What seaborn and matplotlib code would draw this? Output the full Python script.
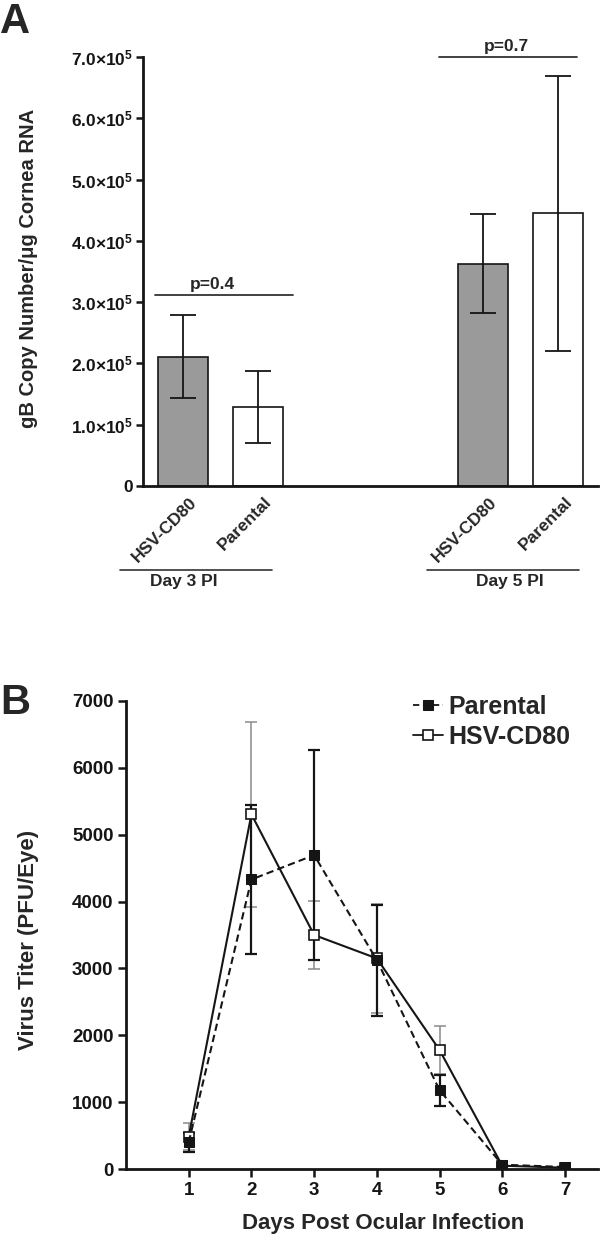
import numpy as np
import pandas as pd
import seaborn as sns
import matplotlib
matplotlib.use("Agg")
import matplotlib.pyplot as plt
import matplotlib.transforms as mtransforms

# ---- data ----
# panel A: gB copy number per ug cornea RNA
bar_groups = ["Day 3 PI", "Day 3 PI", "Day 5 PI", "Day 5 PI"]
bar_viruses = ["HSV-CD80", "Parental", "HSV-CD80", "Parental"]
bar_means = [2.11e5, 1.29e5, 3.63e5, 4.45e5]
bar_errs = [0.68e5, 0.58e5, 0.80e5, 2.245e5]
p_labels = ["p=0.4", "p=0.7"]

# panel B: virus titer
days = [1, 2, 3, 4, 5, 6, 7]
parental_mean = [400, 4330, 4695, 3125, 1180, 65, 30]
parental_err = [140, 1120, 1570, 830, 230, 20, 10]
cd80_mean = [485, 5305, 3500, 3150, 1780, 50, 20]
cd80_err = [200, 1380, 510, 820, 360, 15, 8]

# layout
bar_x = [0, 1, 4, 5]

sns.set_style("ticks")
plt.rcParams["font.family"] = ["Liberation Sans", "DejaVu Sans"]
plt.rcParams["font.weight"] = "bold"
plt.rcParams["axes.labelweight"] = "bold"
plt.rcParams["mathtext.fontset"] = "custom"
plt.rcParams["mathtext.bf"] = "Liberation Sans:bold"
plt.rcParams["mathtext.rm"] = "Liberation Sans:bold"
plt.rcParams["mathtext.default"] = "bf"

fig = plt.figure(figsize=(6, 12.38), dpi=100)
axA = fig.add_axes([0.238, 0.6074, 0.759, 0.3466])
axB = fig.add_axes([0.21, 0.0557, 0.787, 0.3781])

ink = "#151515"

# ---------------- panel A ----------------
dfA = pd.DataFrame({"x": bar_x, "virus": bar_viruses, "group": bar_groups,
                    "mean": bar_means, "err": bar_errs})
sns.barplot(data=dfA, x="x", y="mean", hue="virus", native_scale=True, dodge=False,
            palette={"HSV-CD80": "#9a9a9a", "Parental": "white"},
            edgecolor=ink, linewidth=1.2, width=0.667, errorbar=None,
            legend=False, ax=axA)
axA.errorbar(dfA["x"], dfA["mean"], yerr=dfA["err"], fmt="none", ecolor=ink,
             elinewidth=1.3, capsize=9.5, capthick=1.3, zorder=5)

axA.set_xlim(-0.54, 5.53)
axA.set_ylim(0, 7e5)
yt = np.arange(0, 8) * 1e5
axA.set_yticks(yt)
axA.set_yticklabels(["0"] + [f"{v:.1f}×10$^{{5}}$" for v in range(1, 8)], fontsize=12.5)
axA.set_xticks(bar_x)
axA.set_xticklabels(bar_viruses, rotation=45, ha="right", va="top",
                    rotation_mode="anchor", fontsize=12.5)
axA.tick_params(axis="x", length=0, pad=6)
axA.tick_params(axis="y", length=5, width=1.8, direction="out", pad=2, colors=ink)
off = mtransforms.ScaledTranslation(0.06, 0, fig.dpi_scale_trans)
for lab in axA.get_xticklabels():
    lab.set_transform(lab.get_transform() + off)
axA.set_xlabel("")
axA.set_ylabel("gB Copy Number/μg Cornea RNA", fontsize=14.5)
axA.yaxis.set_label_coords(-0.231, 0.506)
for s in ["left", "bottom"]:
    axA.spines[s].set_linewidth(2)
    axA.spines[s].set_color(ink)
sns.despine(ax=axA)

# p-value brackets
axA.plot([-0.38, 1.46], [3.12e5, 3.12e5], color="#333333", lw=1.3, clip_on=False)
axA.text(0.39, 3.17e5, p_labels[0], ha="center", va="bottom", fontsize=12.5)
axA.plot([3.41, 5.25], [7.0e5, 7.0e5], color="#333333", lw=1.3, clip_on=False)
axA.text(4.31, 7.05e5, p_labels[1], ha="center", va="bottom", fontsize=12.5)

# group brackets under the x labels
trA = mtransforms.blended_transform_factory(axA.transData, axA.transAxes)
for (x0, x1, xt), grp in zip([(-0.85, 1.18, 0.0), (3.25, 5.27, 4.35)], ["Day 3 PI", "Day 5 PI"]):
    axA.plot([x0, x1], [-0.196, -0.196], color="#333333", lw=1.2,
             transform=trA, clip_on=False)
    axA.text(xt, -0.206, grp, ha="center", va="top", fontsize=12.5, transform=trA)

# ---------------- panel B ----------------
dfB = pd.DataFrame({"day": days * 2,
                    "titer": parental_mean + cd80_mean,
                    "err": parental_err + cd80_err,
                    "virus": ["Parental"] * 7 + ["HSV-CD80"] * 7})

cd = dfB[dfB.virus == "HSV-CD80"]
pa = dfB[dfB.virus == "Parental"]
axB.errorbar(cd["day"], cd["titer"], yerr=cd["err"], fmt="none", ecolor="#8a8a8a",
             elinewidth=1.1, capsize=4.5, capthick=1.1, zorder=2)
axB.errorbar(pa["day"], pa["titer"], yerr=pa["err"], fmt="none", ecolor=ink,
             elinewidth=1.6, capsize=4.5, capthick=1.6, zorder=3)

sns.lineplot(data=cd, x="day", y="titer", color=ink, linestyle="-",
             marker="s", markersize=7, linewidth=1.5, errorbar=None,
             label="HSV-CD80", ax=axB, zorder=4)
line_cd = axB.get_lines()[-1]
line_cd.set_markerfacecolor("white")
line_cd.set_markeredgecolor(ink)
line_cd.set_markeredgewidth(1.2)
sns.lineplot(data=pa, x="day", y="titer", color=ink, linestyle=(0, (3.5, 2)),
             marker="s", markersize=7, linewidth=1.5, errorbar=None,
             label="Parental", ax=axB, zorder=4)
line_pa = axB.get_lines()[-1]
line_pa.set_markerfacecolor(ink)
line_pa.set_markeredgecolor(ink)

axB.set_xlim(0, 7.53)
axB.set_ylim(0, 7000)
axB.set_xticks(days)
axB.set_yticks(np.arange(0, 7001, 1000))
axB.tick_params(axis="both", labelsize=13.5, length=6, width=1.8, direction="out",
                colors=ink, pad=3)
axB.set_xlabel("Days Post Ocular Infection", fontsize=16)
axB.xaxis.set_label_coords(0.545, -0.094)
axB.set_ylabel("Virus Titer (PFU/Eye)", fontsize=16)
axB.yaxis.set_label_coords(-0.184, 0.49)
for s in ["left", "bottom"]:
    axB.spines[s].set_linewidth(2)
    axB.spines[s].set_color(ink)
sns.despine(ax=axB)

leg = axB.legend([line_pa, line_cd], ["Parental", "HSV-CD80"], loc="upper left",
                 bbox_to_anchor=(0.575, 1.045), frameon=False, fontsize=18,
                 handlelength=1.2, handletextpad=0.25, labelspacing=0.25, borderpad=0.1)
for h in leg.legend_handles:
    h.set_linewidth(1.3)
    h.set_markersize(6.5)

# panel letters
fig.text(0.0, 0.998, "A", fontsize=30, fontweight="bold", ha="left", va="top")
fig.text(0.0, 0.448, "B", fontsize=30, fontweight="bold", ha="left", va="top")

fig.savefig("out.png", dpi=100)
